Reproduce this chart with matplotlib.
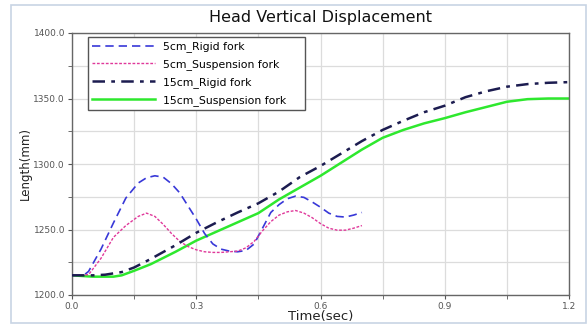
import matplotlib
matplotlib.use("Agg")
import matplotlib.pyplot as plt
from matplotlib.patches import Rectangle

plt.rcParams['font.family'] = ['DejaVu Sans']

title = "Head Vertical Displacement"
xlabel = "Time(sec)"
ylabel = "Length(mm)"
labels = ["5cm_Rigid fork", "5cm_Suspension fork", "15cm_Rigid fork", "15cm_Suspension fork"]

t_5r = [0, 0.03, 0.04, 0.07, 0.10, 0.13, 0.16, 0.18, 0.20, 0.22, 0.24, 0.26, 0.28, 0.30, 0.32, 0.34,
        0.36, 0.38, 0.40, 0.42, 0.44, 0.46, 0.48, 0.50, 0.52, 0.54, 0.56, 0.58, 0.60, 0.62, 0.64,
        0.66, 0.68, 0.70]
v_5r = [1215, 1215.5, 1218, 1235, 1255, 1274, 1285.5, 1289.5, 1291, 1290, 1285, 1278, 1268, 1258,
        1247, 1239, 1235, 1233.5, 1233, 1234, 1239, 1251, 1263, 1269, 1273.5, 1275.5, 1274.5, 1271,
        1267, 1262.5, 1260, 1259.5, 1261, 1263]

t_5s = [0, 0.04, 0.07, 0.10, 0.13, 0.16, 0.18, 0.20, 0.22, 0.24, 0.26, 0.28, 0.30, 0.32, 0.34, 0.36,
        0.38, 0.40, 0.42, 0.44, 0.46, 0.48, 0.50, 0.52, 0.54, 0.56, 0.58, 0.60, 0.62, 0.64, 0.66,
        0.68, 0.70]
v_5s = [1215, 1215.5, 1228, 1244, 1253, 1260, 1262.5, 1260, 1254, 1247, 1241, 1237, 1234.5, 1233,
        1232.5, 1232.5, 1233, 1233.5, 1236, 1241, 1249, 1256, 1261, 1263.5, 1264.5, 1262.5, 1259,
        1254.5, 1251, 1249.5, 1249.5, 1251, 1253]

t_15 = [0, 0.05, 0.08, 0.12, 0.15, 0.19, 0.25, 0.3, 0.35, 0.4, 0.45, 0.5, 0.55, 0.6, 0.65, 0.7,
        0.75, 0.8, 0.85, 0.9, 0.95, 1.0, 1.05, 1.1, 1.15, 1.2]
v_15r = [1215, 1215, 1215.5, 1217.5, 1221, 1227.5, 1238, 1247.5, 1255.5, 1263, 1270, 1279, 1290,
         1298.5, 1308, 1317.5, 1326, 1333, 1339.5, 1344.5, 1351, 1355.5, 1359, 1361, 1362, 1362.5]

t_15s = [0, 0.05, 0.1, 0.12, 0.15, 0.19, 0.25, 0.3, 0.35, 0.4, 0.45, 0.5, 0.55, 0.6, 0.65, 0.7,
         0.75, 0.8, 0.85, 0.9, 0.95, 1.0, 1.05, 1.1, 1.15, 1.2]
v_15s = [1215, 1214, 1214, 1215, 1218.5, 1223.5, 1233, 1241.5, 1248.5, 1255.5, 1262.5, 1273, 1282,
         1291, 1301, 1311, 1320, 1326, 1331, 1335, 1339.5, 1343.5, 1347.5, 1349.5, 1350, 1350]

xticks_major = [0.0, 0.3, 0.6, 0.9, 1.2]
xticks_minor = [0.15, 0.45, 0.75, 1.05]
yticks_major = [1200, 1250, 1300, 1350, 1400]
yticks_minor = [1225, 1275, 1325, 1375]

fig = plt.figure(figsize=(5.87, 3.25), dpi=100)
fig.patch.set_facecolor('white')
fig.patches.append(Rectangle((11/587, 2/325), 575/587, 318/325, transform=fig.transFigure,
                             fill=False, edgecolor='#c8d4e4', linewidth=1.2))
ax = fig.add_axes([72/587, 1 - 295/325, (569 - 72)/587, (295 - 33)/325])

ax.plot(t_5r, v_5r, color='#3838d8', lw=1.2, ls=(0, (5, 3)), label=labels[0], zorder=3)
ax.plot(t_5s, v_5s, color='#e0389a', lw=1.0, ls=(0, (2, 1.2)), label=labels[1], zorder=3)
ax.plot(t_15, v_15r, color='#1c1c50', lw=1.8, ls=(0, (5, 2.5, 1.5, 2.5)), label=labels[2], zorder=4)
ax.plot(t_15s, v_15s, color='#2ee82e', lw=1.8, ls='-', label=labels[3], zorder=2)

ax.set_xlim(0, 1.2)
ax.set_ylim(1200, 1400)
ax.set_xticks(xticks_major)
ax.set_xticks(xticks_minor, minor=True)
ax.set_yticks(yticks_major)
ax.set_yticks(yticks_minor, minor=True)
ax.set_xticklabels([f"{v:.1f}" for v in xticks_major])
ax.set_yticklabels([f"{v:.1f}" for v in yticks_major])
ax.grid(True, which='both', color='#dcdcdc', lw=0.9)
ax.set_axisbelow(True)
ax.tick_params(which='both', direction='out', length=3, color='#555555', labelsize=6.5,
               labelcolor='#555555', pad=2)
for s in ax.spines.values():
    s.set_color('#666666')
    s.set_linewidth(1.0)

ax.set_title(title, fontsize=11.5, pad=8, color='#111111')
ax.set_xlabel(xlabel, fontsize=9.5, labelpad=-1, color='#222222')
ax.set_ylabel(ylabel, fontsize=8.5, labelpad=1, color='#222222')

x0 = (88 - 72) / 497
w = (305 - 88) / 497
y_top = (295 - 37) / 262
h = (112 - 37) / 262
leg = ax.legend(loc='upper left', bbox_to_anchor=(x0, y_top - h, w, h), mode='expand',
                fontsize=7.8, handlelength=5.8, handletextpad=0.7, borderpad=0.4,
                labelspacing=0.64, fancybox=False, framealpha=1, edgecolor='#555555',
                borderaxespad=0)
leg.get_frame().set_linewidth(1.0)

fig.savefig('out.png', dpi=100)
